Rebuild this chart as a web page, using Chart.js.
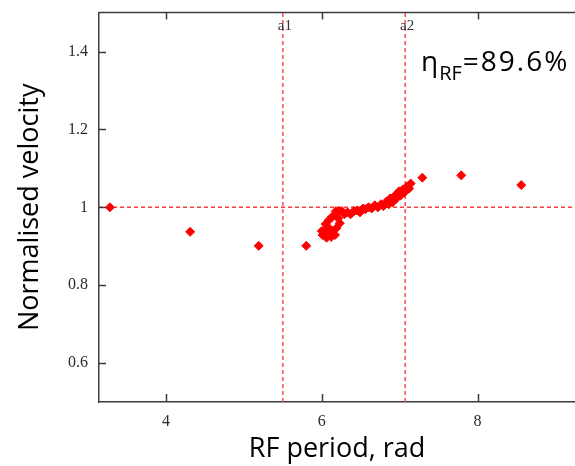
<!DOCTYPE html>
<html>
<head>
<meta charset="utf-8">
<script src="https://cdn.jsdelivr.net/npm/chart.js@4.4.1/dist/chart.umd.min.js"></script>
<style>
  body { margin: 0; background: #fff; }
  canvas { display: block; }
</style>
</head>
<body>
<canvas id="myChart" width="575" height="466"></canvas>
<script>
// RF period (rad) and normalised velocity of each bunch
const periods = [
  3.28, 4.31, 5.19, 5.80, 7.29, 7.79, 8.56,
  6.01, 6.04, 6.06, 6.09, 6.12, 6.14, 6.17, 6.19, 6.05, 6.09,
  6.13, 6.17, 6.21, 6.23, 6.00, 6.18, 6.22, 6.08,
  6.26, 6.29, 6.33, 6.37, 6.41, 6.45, 6.49, 6.53, 6.56, 6.60,
  6.64, 6.68, 6.72, 6.76, 6.79, 6.83, 6.86, 6.88, 6.91, 6.94,
  6.96, 6.99, 7.01, 7.04, 7.06, 7.09, 7.12, 7.14,
];
const velocities = [
  1.000, 0.937, 0.901, 0.901, 1.076, 1.082, 1.057,
  0.929, 0.942, 0.922, 0.934, 0.924, 0.939, 0.929, 0.947, 0.957, 0.967,
  0.975, 0.980, 0.972, 0.959, 0.939, 0.990, 0.990, 0.949,
  0.990, 0.982, 0.987, 0.982, 0.990, 0.992, 0.987, 0.997, 0.995, 1.000,
  0.997, 1.005, 1.000, 1.008, 1.003, 1.015, 1.008, 1.023, 1.013, 1.030,
  1.023, 1.041, 1.030, 1.046, 1.038, 1.053, 1.048, 1.061,
];

const xTicks = [4, 6, 8];
const yTicks = [0.6, 0.8, 1, 1.2, 1.4];
const xRange = [3.14, 9.25];
const yRange = [0.5, 1.5];

const markerNames = ['a1', 'a2'];
const markerValues = [5.5, 7.07];
const refVelocity = 1;
const efficiency = '=89.6%';

const axisColor = '#3c3c3c';
const dashColor = '#ff3b3b';
const tickFont = { family: '"Liberation Serif", serif', size: 16 };
const titleFont = { family: '"Open Sans", sans-serif', size: 27 };

const points = periods.map((p, i) => ({ x: p, y: velocities[i] }));

function dashed(data) {
  return {
    data: data,
    showLine: true,
    borderColor: dashColor,
    borderWidth: 1.4,
    borderDash: [4, 3],
    pointRadius: 0,
    order: 2,
  };
}

// top edge, inward ticks, a1/a2 names and the efficiency label
const frame = {
  id: 'frame',
  afterDraw(chart) {
    const { ctx, chartArea: a, scales: { x, y } } = chart;
    ctx.save();
    ctx.strokeStyle = axisColor;
    ctx.lineWidth = 1.5;
    ctx.beginPath();
    ctx.moveTo(a.left, a.top);
    ctx.lineTo(a.right, a.top);
    for (const v of xTicks) {
      const px = Math.round(x.getPixelForValue(v)) + 0.5;
      ctx.moveTo(px, a.top);
      ctx.lineTo(px, a.top + 7);
      ctx.moveTo(px, a.bottom);
      ctx.lineTo(px, a.bottom - 8);
    }
    for (const v of yTicks) {
      const py = Math.round(y.getPixelForValue(v)) + 0.5;
      ctx.moveTo(a.left, py);
      ctx.lineTo(a.left + 7, py);
    }
    ctx.stroke();

    ctx.fillStyle = '#333';
    ctx.font = '15px "Liberation Serif"';
    ctx.textAlign = 'center';
    ctx.textBaseline = 'middle';
    markerNames.forEach((n, i) => {
      ctx.fillText(n, x.getPixelForValue(markerValues[i]) + 2, a.top + 13);
    });

    ctx.fillStyle = '#000';
    ctx.textAlign = 'left';
    ctx.textBaseline = 'alphabetic';
    let tx = 421;
    ctx.font = '28px "Open Sans"';
    ctx.fillText('η', tx, 71);
    tx += ctx.measureText('η').width + 1;
    ctx.font = '20px "Open Sans"';
    ctx.fillText('RF', tx, 80);
    tx += ctx.measureText('RF').width + 1;
    ctx.font = '28px "Open Sans"';
    ctx.letterSpacing = '2px';
    ctx.fillText(efficiency, tx, 71);
    ctx.restore();
  },
};

const ctx = document.getElementById('myChart').getContext('2d');

// eslint-disable-next-line
const chart = new Chart(ctx, {
  type: 'scatter',
  data: {
    datasets: [
      {
        data: points,
        pointStyle: 'rectRot',
        pointRadius: 4.5,
        pointBorderWidth: 1,
        backgroundColor: '#ff0000',
        borderColor: '#ff0000',
        order: 1,
      },
      dashed([{ x: xRange[0], y: refVelocity }, { x: xRange[1], y: refVelocity }]),
      dashed([{ x: markerValues[0], y: yRange[0] }, { x: markerValues[0], y: yRange[1] }]),
      dashed([{ x: markerValues[1], y: yRange[0] }, { x: markerValues[1], y: yRange[1] }]),
    ],
  },
  options: {
    responsive: false,
    animation: false,
    layout: { autoPadding: false, padding: { top: 8, right: 0, left: 0, bottom: 0 } },
    plugins: {
      legend: { display: false },
      tooltip: { enabled: false },
    },
    scales: {
      x: {
        type: 'linear',
        min: xRange[0],
        max: xRange[1],
        afterBuildTicks: (scale) => { scale.ticks = xTicks.map(v => ({ value: v })); },
        afterFit: (scale) => { scale.height = 64; },
        grid: { display: false },
        border: { color: axisColor, width: 1.5 },
        ticks: { color: '#2b2b2b', font: tickFont, padding: 2, maxRotation: 0 },
        title: {
          display: true,
          text: 'RF period, rad',
          color: '#000',
          font: titleFont,
          padding: { top: 0, bottom: 0 },
        },
      },
      y: {
        type: 'linear',
        min: yRange[0],
        max: yRange[1],
        afterBuildTicks: (scale) => { scale.ticks = yTicks.map(v => ({ value: v })); },
        afterFit: (scale) => { scale.width = 99; },
        grid: { display: false },
        border: { color: axisColor, width: 1.5 },
        ticks: {
          color: '#2b2b2b',
          font: tickFont,
          padding: 3,
          callback: (v) => String(+v.toFixed(1)),
        },
        title: {
          display: true,
          text: 'Normalised velocity',
          color: '#000',
          font: titleFont,
          padding: { top: 14, bottom: 0 },
        },
      },
    },
  },
  plugins: [frame],
});
</script>
</body>
</html>
